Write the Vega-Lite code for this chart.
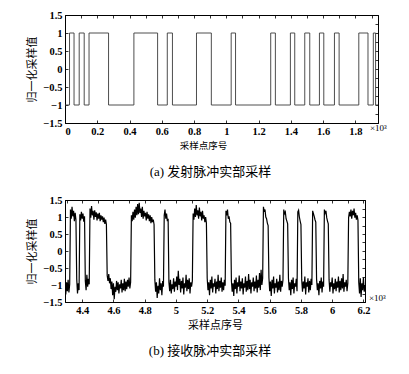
{
 "$schema": "https://vega.github.io/schema/vega-lite/v6.json",
 "background": "white",
 "padding": {"left": 26, "top": 9, "right": 5, "bottom": 5},
 "spacing": 14,
 "config": {
  "view": {"stroke": "black", "strokeWidth": 1},
  "axis": {"grid": false, "domainColor": "black", "domainWidth": 1, "tickColor": "black", "tickSize": -3, "tickWidth": 0.8, "labelColor": "black", "labelFont": "Liberation Serif", "labelFontSize": 10.5, "labelFontWeight": "bold", "labelPadding": 6, "titleFont": "Liberation Serif, Noto Sans CJK SC", "titleFontWeight": "normal", "titleColor": "black", "titleFontSize": 11},
  "title": {"font": "Liberation Serif, Noto Sans CJK SC", "fontWeight": "normal", "fontSize": 13, "color": "black"}
 },
 "datasets": {
  "top": [
   {"x":0,"y":-1},{"x":0.028,"y":1},{"x":0.056,"y":-1},{"x":0.088,"y":1},{"x":0.119,"y":-1},{"x":0.149,"y":1},{"x":0.27,"y":-1},{"x":0.427,"y":1},{"x":0.574,"y":-1},{"x":0.634,"y":1},{"x":0.666,"y":-1},{"x":0.815,"y":1},{"x":0.907,"y":-1},{"x":1.03,"y":1},{"x":1.057,"y":-1},{"x":1.275,"y":1},{"x":1.304,"y":-1},{"x":1.397,"y":1},{"x":1.424,"y":-1},{"x":1.486,"y":1},{"x":1.517,"y":-1},{"x":1.577,"y":1},{"x":1.604,"y":-1},{"x":1.67,"y":1},{"x":1.699,"y":-1},{"x":1.821,"y":1},{"x":1.878,"y":-1},{"x":1.911,"y":1},{"x":1.925,"y":-1},{"x":1.94,"y":-1}
  ],
  "bottom": [
   {"x":4.29,"y":-1.05},{"x":4.295,"y":-1.28},{"x":4.3,"y":-0.92},{"x":4.305,"y":-1.18},{"x":4.31,"y":-0.85},{"x":4.315,"y":-1.22},{"x":4.32,"y":-0.98},
   {"x":4.325,"y":1.22},{"x":4.33,"y":0.95},{"x":4.335,"y":1.3},{"x":4.34,"y":1.02},{"x":4.345,"y":1.18},{"x":4.35,"y":0.88},{"x":4.355,"y":1.12},{"x":4.36,"y":0.92},
   {"x":4.365,"y":-0.82},{"x":4.37,"y":-1.25},{"x":4.375,"y":-0.95},{"x":4.38,"y":-1.15},
   {"x":4.385,"y":1.08},{"x":4.39,"y":0.9},{"x":4.395,"y":1.15},{"x":4.4,"y":0.95},{"x":4.405,"y":1.1},{"x":4.41,"y":0.86},{"x":4.415,"y":1.02},
   {"x":4.42,"y":-0.88},{"x":4.425,"y":-1.15},{"x":4.43,"y":-0.7},{"x":4.435,"y":-1.05},{"x":4.44,"y":-0.82},{"x":4.445,"y":-0.98},
   {"x":4.45,"y":1.25},{"x":4.455,"y":0.98},{"x":4.46,"y":1.32},{"x":4.465,"y":1.05},{"x":4.47,"y":1.18},{"x":4.475,"y":0.92},{"x":4.48,"y":1.2},{"x":4.485,"y":1.0},{"x":4.49,"y":1.14},{"x":4.495,"y":0.9},{"x":4.5,"y":1.1},{"x":4.505,"y":0.95},{"x":4.51,"y":1.12},{"x":4.515,"y":0.88},{"x":4.52,"y":1.05},{"x":4.525,"y":0.92},{"x":4.53,"y":1.02},{"x":4.535,"y":0.85},{"x":4.54,"y":0.98},{"x":4.545,"y":0.8},{"x":4.55,"y":0.92},{"x":4.555,"y":0.78},
   {"x":4.56,"y":-0.72},{"x":4.565,"y":-0.88},{"x":4.57,"y":-0.68},{"x":4.575,"y":-0.95},{"x":4.58,"y":-0.8},{"x":4.585,"y":-1.12},{"x":4.59,"y":-0.9},{"x":4.595,"y":-1.3},{"x":4.6,"y":-0.95},{"x":4.605,"y":-1.42},{"x":4.61,"y":-1.05},{"x":4.615,"y":-1.2},{"x":4.62,"y":-0.88},{"x":4.625,"y":-1.15},{"x":4.63,"y":-0.92},{"x":4.635,"y":-1.25},{"x":4.64,"y":-0.98},{"x":4.645,"y":-1.1},{"x":4.65,"y":-0.85},{"x":4.655,"y":-1.22},{"x":4.66,"y":-0.95},{"x":4.665,"y":-1.15},{"x":4.67,"y":-0.82},{"x":4.675,"y":-1.18},{"x":4.68,"y":-0.9},{"x":4.685,"y":-1.12},{"x":4.69,"y":-0.85},{"x":4.695,"y":-1.05},{"x":4.7,"y":-0.78},{"x":4.705,"y":-1.1},{"x":4.71,"y":-0.92},
   {"x":4.715,"y":1.05},{"x":4.72,"y":0.88},{"x":4.725,"y":1.15},{"x":4.73,"y":0.92},{"x":4.735,"y":1.22},{"x":4.74,"y":0.98},{"x":4.745,"y":1.3},{"x":4.75,"y":1.05},{"x":4.755,"y":1.38},{"x":4.76,"y":1.08},{"x":4.765,"y":1.42},{"x":4.77,"y":1.12},{"x":4.775,"y":1.25},{"x":4.78,"y":1.0},{"x":4.785,"y":1.3},{"x":4.79,"y":0.95},{"x":4.795,"y":1.18},{"x":4.8,"y":1.02},{"x":4.805,"y":1.12},{"x":4.81,"y":0.9},{"x":4.815,"y":1.15},{"x":4.82,"y":0.95},{"x":4.825,"y":1.08},{"x":4.83,"y":0.88},{"x":4.835,"y":1.05},{"x":4.84,"y":0.82},{"x":4.845,"y":1.0},{"x":4.85,"y":0.85},{"x":4.855,"y":0.92},{"x":4.86,"y":0.78},
   {"x":4.865,"y":-0.85},{"x":4.87,"y":-1.2},{"x":4.875,"y":-0.92},{"x":4.88,"y":-1.38},{"x":4.885,"y":-1.02},{"x":4.89,"y":-1.25},{"x":4.895,"y":-0.8},{"x":4.9,"y":-1.15},{"x":4.905,"y":-0.95},{"x":4.91,"y":-1.3},{"x":4.915,"y":-0.88},{"x":4.92,"y":-1.05},
   {"x":4.925,"y":1.05},{"x":4.93,"y":1.22},{"x":4.935,"y":0.95},{"x":4.94,"y":1.1},{"x":4.945,"y":0.88},{"x":4.95,"y":0.95},
   {"x":4.955,"y":-0.92},{"x":4.96,"y":-1.18},{"x":4.965,"y":-0.85},{"x":4.97,"y":-1.25},{"x":4.975,"y":-0.98},{"x":4.98,"y":-1.12},{"x":4.985,"y":-0.8},{"x":4.99,"y":-1.2},{"x":4.995,"y":-0.9},{"x":5.0,"y":-1.05},{"x":5.005,"y":-0.75},{"x":5.01,"y":-1.15},{"x":5.015,"y":-0.58},{"x":5.02,"y":-1.0},{"x":5.025,"y":-0.82},{"x":5.03,"y":-1.22},{"x":5.035,"y":-0.88},{"x":5.04,"y":-1.1},{"x":5.045,"y":-0.78},{"x":5.05,"y":-1.28},{"x":5.055,"y":-0.95},{"x":5.06,"y":-1.08},{"x":5.065,"y":-0.7},{"x":5.07,"y":-1.18},{"x":5.075,"y":-0.85},{"x":5.08,"y":-1.12},{"x":5.085,"y":-0.8},{"x":5.09,"y":-1.25},{"x":5.095,"y":-0.92},{"x":5.1,"y":-1.05},{"x":5.105,"y":-0.88},
   {"x":5.11,"y":1.1},{"x":5.115,"y":0.92},{"x":5.12,"y":1.25},{"x":5.125,"y":1.0},{"x":5.13,"y":1.35},{"x":5.135,"y":1.05},{"x":5.14,"y":1.2},{"x":5.145,"y":0.95},{"x":5.15,"y":1.28},{"x":5.155,"y":1.02},{"x":5.16,"y":1.15},{"x":5.165,"y":0.9},{"x":5.17,"y":1.18},{"x":5.175,"y":0.95},{"x":5.18,"y":1.05},{"x":5.185,"y":0.85},{"x":5.19,"y":1.0},{"x":5.195,"y":0.82},
   {"x":5.2,"y":-0.8},{"x":5.205,"y":-1.15},{"x":5.21,"y":-0.92},{"x":5.215,"y":-1.3},{"x":5.22,"y":-0.85},{"x":5.225,"y":-1.1},{"x":5.23,"y":-0.75},{"x":5.235,"y":-1.22},{"x":5.24,"y":-0.95},{"x":5.245,"y":-1.05},{"x":5.25,"y":-0.82},{"x":5.255,"y":-1.25},{"x":5.26,"y":-0.9},{"x":5.265,"y":-1.12},{"x":5.27,"y":-0.7},{"x":5.275,"y":-1.18},{"x":5.28,"y":-0.88},{"x":5.285,"y":-1.08},{"x":5.29,"y":-0.78},{"x":5.295,"y":-1.2},{"x":5.3,"y":-0.92},{"x":5.305,"y":-1.15},{"x":5.31,"y":-0.85},{"x":5.315,"y":-1.02},
   {"x":5.32,"y":1.18},{"x":5.325,"y":1.05},{"x":5.33,"y":1.22},{"x":5.335,"y":0.95},{"x":5.34,"y":1.02},{"x":5.345,"y":0.85},{"x":5.35,"y":0.82},
   {"x":5.355,"y":-0.88},{"x":5.36,"y":-1.2},{"x":5.365,"y":-0.95},{"x":5.37,"y":-1.32},{"x":5.375,"y":-0.85},{"x":5.38,"y":-1.12},{"x":5.385,"y":-0.78},{"x":5.39,"y":-1.25},{"x":5.395,"y":-0.92},{"x":5.4,"y":-1.05},{"x":5.405,"y":-0.72},{"x":5.41,"y":-1.18},{"x":5.415,"y":-0.9},{"x":5.42,"y":-1.1},{"x":5.425,"y":-0.8},{"x":5.43,"y":-1.28},{"x":5.435,"y":-0.95},{"x":5.44,"y":-1.08},{"x":5.445,"y":-0.75},{"x":5.45,"y":-1.2},{"x":5.455,"y":-0.88},{"x":5.46,"y":-1.15},{"x":5.465,"y":-0.68},{"x":5.47,"y":-1.12},{"x":5.475,"y":-0.85},{"x":5.48,"y":-1.25},{"x":5.485,"y":-0.92},{"x":5.49,"y":-1.05},{"x":5.495,"y":-0.78},{"x":5.5,"y":-1.18},{"x":5.505,"y":-0.9},{"x":5.51,"y":-1.1},{"x":5.515,"y":-0.72},{"x":5.52,"y":-1.22},{"x":5.525,"y":-0.85},{"x":5.53,"y":-1.08},{"x":5.535,"y":-0.65},{"x":5.54,"y":-1.15},{"x":5.545,"y":-0.55},{"x":5.55,"y":-1.0},{"x":5.555,"y":-0.8},
   {"x":5.56,"y":1.3},{"x":5.565,"y":1.15},{"x":5.57,"y":1.22},{"x":5.575,"y":1.0},{"x":5.58,"y":0.95},{"x":5.585,"y":0.82},{"x":5.59,"y":0.75},
   {"x":5.595,"y":-0.78},{"x":5.6,"y":-1.18},{"x":5.605,"y":-0.9},{"x":5.61,"y":-1.32},{"x":5.615,"y":-0.85},{"x":5.62,"y":-1.1},{"x":5.625,"y":-0.75},{"x":5.63,"y":-1.25},{"x":5.635,"y":-0.95},{"x":5.64,"y":-1.08},{"x":5.645,"y":-0.82},{"x":5.65,"y":-1.22},{"x":5.655,"y":-0.9},{"x":5.66,"y":-1.15},{"x":5.665,"y":-0.7},{"x":5.67,"y":-1.2},{"x":5.675,"y":-0.88},{"x":5.68,"y":-1.05},{"x":5.685,"y":-0.85},
   {"x":5.69,"y":1.22},{"x":5.695,"y":1.1},{"x":5.7,"y":1.15},{"x":5.705,"y":0.95},{"x":5.71,"y":0.88},{"x":5.715,"y":0.8},
   {"x":5.72,"y":-0.8},{"x":5.725,"y":-1.15},{"x":5.73,"y":-0.92},{"x":5.735,"y":-1.3},{"x":5.74,"y":-0.85},{"x":5.745,"y":-1.12},{"x":5.75,"y":-0.78},{"x":5.755,"y":-1.25},{"x":5.76,"y":-0.95},{"x":5.765,"y":-1.05},{"x":5.77,"y":-0.82},{"x":5.775,"y":-1.18},
   {"x":5.78,"y":1.15},{"x":5.785,"y":1.2},{"x":5.79,"y":1.0},{"x":5.795,"y":0.88},{"x":5.8,"y":0.78},
   {"x":5.805,"y":-0.85},{"x":5.81,"y":-1.2},{"x":5.815,"y":-0.9},{"x":5.82,"y":-1.1},{"x":5.825,"y":-0.75},{"x":5.83,"y":-1.28},{"x":5.835,"y":-0.92},{"x":5.84,"y":-1.05},{"x":5.845,"y":-0.8},{"x":5.85,"y":-1.22},{"x":5.855,"y":-0.88},{"x":5.86,"y":-1.15},{"x":5.865,"y":-0.82},{"x":5.87,"y":-1.0},
   {"x":5.875,"y":1.18},{"x":5.88,"y":1.1},{"x":5.885,"y":1.02},{"x":5.89,"y":0.92},{"x":5.895,"y":0.85},
   {"x":5.9,"y":-0.82},{"x":5.905,"y":-1.15},{"x":5.91,"y":-0.95},{"x":5.915,"y":-1.3},{"x":5.92,"y":-0.88},{"x":5.925,"y":-1.1},{"x":5.93,"y":-0.78},{"x":5.935,"y":-1.22},{"x":5.94,"y":-0.9},{"x":5.945,"y":-1.05},
   {"x":5.95,"y":1.22},{"x":5.955,"y":1.12},{"x":5.96,"y":1.18},{"x":5.965,"y":0.98},{"x":5.97,"y":0.88},{"x":5.975,"y":0.8},
   {"x":5.98,"y":-0.85},{"x":5.985,"y":-1.2},{"x":5.99,"y":-0.92},{"x":5.995,"y":-1.05},{"x":6.0,"y":-0.78},{"x":6.005,"y":-1.25},{"x":6.01,"y":-0.95},{"x":6.015,"y":-1.12},{"x":6.02,"y":-0.82},{"x":6.025,"y":-1.18},{"x":6.03,"y":-0.9},{"x":6.035,"y":-1.08},{"x":6.04,"y":-0.75},{"x":6.045,"y":-1.22},{"x":6.05,"y":-0.88},{"x":6.055,"y":-1.15},{"x":6.06,"y":-0.8},{"x":6.065,"y":-1.1},{"x":6.07,"y":-0.68},{"x":6.075,"y":-1.2},{"x":6.08,"y":-0.92},{"x":6.085,"y":-1.05},{"x":6.09,"y":-0.85},{"x":6.095,"y":-1.18},{"x":6.1,"y":-0.95},
   {"x":6.105,"y":0.98},{"x":6.11,"y":1.15},{"x":6.115,"y":1.02},{"x":6.12,"y":1.22},{"x":6.125,"y":0.95},{"x":6.13,"y":1.18},{"x":6.135,"y":1.05},{"x":6.14,"y":1.25},{"x":6.145,"y":0.98},{"x":6.15,"y":1.12},{"x":6.155,"y":0.92},{"x":6.16,"y":1.05},{"x":6.165,"y":0.9},
   {"x":6.17,"y":-0.92},{"x":6.175,"y":-1.25},{"x":6.18,"y":-0.8},{"x":6.185,"y":-1.35},{"x":6.19,"y":-0.95},{"x":6.195,"y":-1.15},{"x":6.2,"y":-0.78},{"x":6.205,"y":-1.2},{"x":6.21,"y":-1.0}
  ]
 },
 "vconcat": [
  {
   "width": 313, "height": 108,
   "title": {"text": "(a) 发射脉冲实部采样", "orient": "bottom", "offset": 16, "dx": -11},
   "layer": [
    {
     "data": {"name": "top"},
     "mark": {"type": "line", "interpolate": "step-after", "color": "#3a3a3a", "strokeWidth": 0.9},
     "encoding": {
      "x": {"field": "x", "type": "quantitative", "scale": {"domain": [0, 1.94], "nice": false, "zero": false},
            "axis": {"orient": "bottom", "values": [0,0.2,0.4,0.6,0.8,1,1.2,1.4,1.6,1.8], "format": "~g", "title": "采样点序号", "titleFontSize": 9.5, "titlePadding": 4, "titleX": 138}},
      "y": {"field": "y", "type": "quantitative", "scale": {"domain": [-1.5, 1.5], "nice": false, "zero": false},
            "axis": {"orient": "left", "values": [-1.5,-1,-0.5,0,0.5,1,1.5], "format": "~g", "title": "归一化采样值", "titlePadding": 5}}
     }
    },
    {
     "data": {"name": "top"},
     "mark": {"type": "line", "opacity": 0},
     "encoding": {
      "x": {"field": "x", "type": "quantitative", "axis": {"orient": "top", "labels": false, "title": null, "values": [0.1,0.2,0.3,0.4,0.5,0.6,0.7,0.8,0.9,1,1.1,1.2,1.3,1.4,1.5,1.6,1.7,1.8,1.9]}},
      "y": {"field": "y", "type": "quantitative", "axis": {"orient": "right", "labels": false, "title": null, "values": [-1.25,-1,-0.75,-0.5,-0.25,0,0.25,0.5,0.75,1,1.25]}}
     }
    },
    {
     "data": {"values": [{}]},
     "mark": {"type": "text", "text": "×10³", "align": "left", "baseline": "middle", "dx": -8, "dy": 5, "font": "Liberation Serif", "fontSize": 9, "color": "black"},
     "encoding": {
      "x": {"datum": 1.94, "type": "quantitative", "axis": null},
      "y": {"datum": -1.5, "type": "quantitative", "axis": null}
     }
    }
   ],
   "resolve": {"axis": {"x": "independent", "y": "independent"}}
  },
  {
   "width": 300, "height": 102,
   "title": {"text": "(b) 接收脉冲实部采样", "orient": "bottom", "offset": 14, "dx": -5},
   "layer": [
    {
     "data": {"name": "bottom"},
     "mark": {"type": "line", "color": "black", "strokeWidth": 1.2, "clip": true},
     "encoding": {
      "x": {"field": "x", "type": "quantitative", "scale": {"domain": [4.29, 6.21], "nice": false, "zero": false},
            "axis": {"orient": "bottom", "values": [4.4,4.6,4.8,5,5.2,5.4,5.6,5.8,6,6.2], "format": "~g", "title": "采样点序号", "titleFontSize": 11, "titlePadding": 4}},
      "y": {"field": "y", "type": "quantitative", "scale": {"domain": [-1.5, 1.5], "nice": false, "zero": false},
            "axis": {"orient": "left", "values": [-1.5,-1,-0.5,0,0.5,1,1.5], "format": "~g", "title": "归一化采样值", "titlePadding": 5}}
     }
    },
    {
     "data": {"name": "bottom"},
     "mark": {"type": "line", "opacity": 0},
     "encoding": {
      "x": {"field": "x", "type": "quantitative", "axis": {"orient": "top", "labels": false, "title": null, "values": [4.3,4.4,4.5,4.6,4.7,4.8,4.9,5,5.1,5.2,5.3,5.4,5.5,5.6,5.7,5.8,5.9,6,6.1,6.2]}},
      "y": {"field": "y", "type": "quantitative", "axis": {"orient": "right", "labels": false, "title": null, "values": [-1.25,-1,-0.75,-0.5,-0.25,0,0.25,0.5,0.75,1,1.25]}}
     }
    },
    {
     "data": {"values": [{}]},
     "mark": {"type": "text", "text": "×10³", "align": "left", "baseline": "middle", "dx": 4, "dy": -4, "font": "Liberation Serif", "fontSize": 9, "color": "black"},
     "encoding": {
      "x": {"datum": 6.21, "type": "quantitative", "axis": null},
      "y": {"datum": -1.5, "type": "quantitative", "axis": null}
     }
    }
   ],
   "resolve": {"axis": {"x": "independent", "y": "independent"}}
  }
 ]
}
